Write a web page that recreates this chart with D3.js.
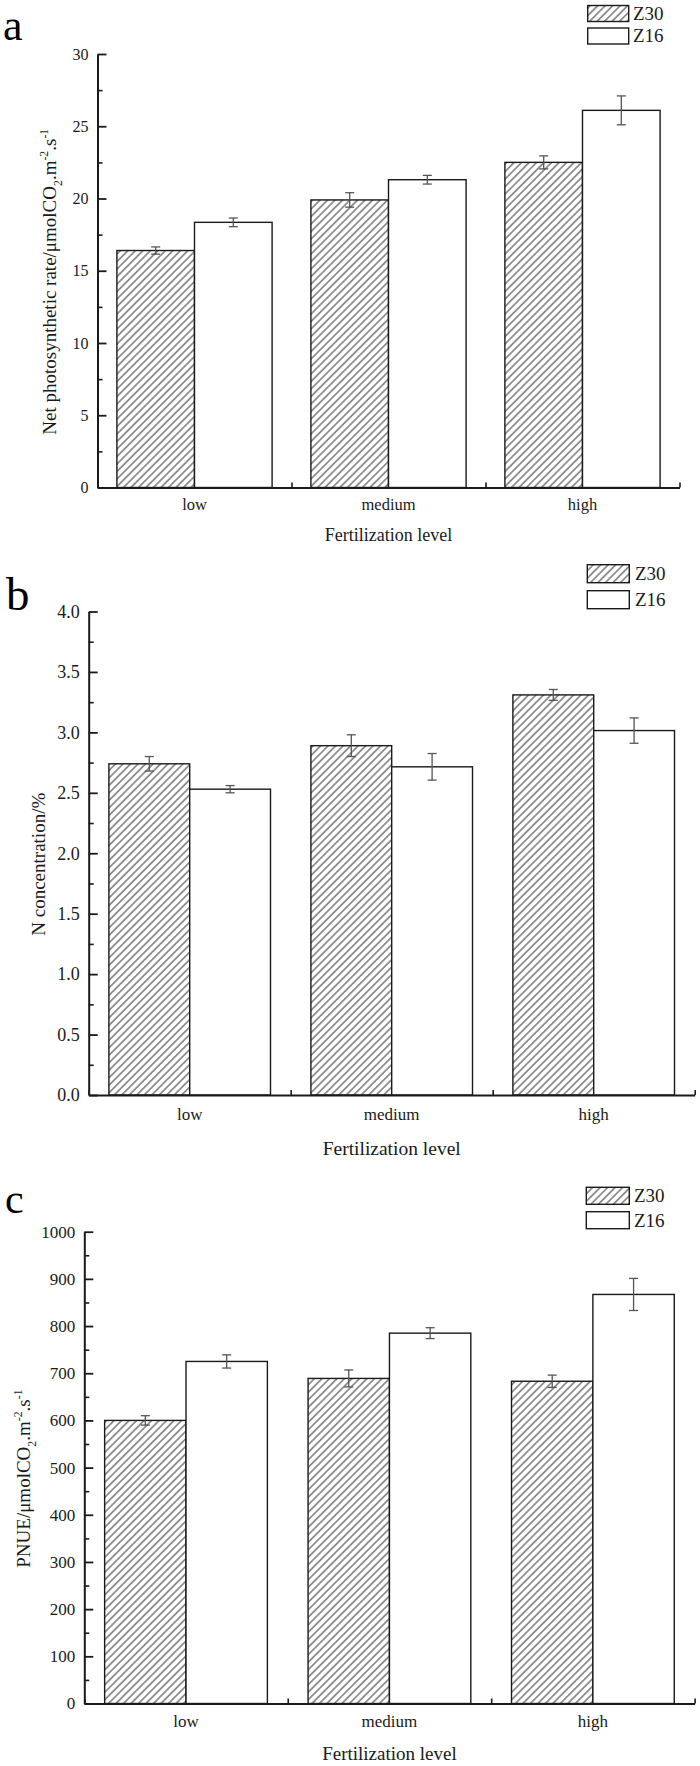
<!DOCTYPE html>
<html>
<head>
<meta charset="utf-8">
<script src="https://cdn.jsdelivr.net/npm/d3@7"></script>
<style>
  html, body { margin: 0; padding: 0; background: #fff; }
  svg { display: block; }
</style>
</head>
<body>
<script>
// ---------------- DATA ----------------
const categories = ["low", "medium", "high"];
const seriesNames = ["Z30", "Z16"];

// Panel a: Net photosynthetic rate
const photoZ30 = [16.4, 19.9, 22.5];
const photoZ30Err = [0.25, 0.5, 0.45];
const photoZ16 = [18.35, 21.3, 26.1];
const photoZ16Err = [0.3, 0.3, 1.0];
const photoTicks = [0, 5, 10, 15, 20, 25, 30];
const photoMinor = [2.5, 7.5, 12.5, 17.5, 22.5, 27.5];

// Panel b: N concentration
const nZ30 = [2.74, 2.89, 3.31];
const nZ30Err = [0.06, 0.09, 0.045];
const nZ16 = [2.53, 2.715, 3.015];
const nZ16Err = [0.03, 0.11, 0.105];
const nTicks = [0, 0.5, 1.0, 1.5, 2.0, 2.5, 3.0, 3.5, 4.0];
const nMinor = [0.25, 0.75, 1.25, 1.75, 2.25, 2.75, 3.25, 3.75];

// Panel c: PNUE
const pnueZ30 = [600, 689, 683];
const pnueZ30Err = [10, 18, 13];
const pnueZ16 = [725, 785, 867];
const pnueZ16Err = [14, 11.5, 34];
const pnueTicks = [0, 100, 200, 300, 400, 500, 600, 700, 800, 900, 1000];
const pnueMinor = [50, 150, 250, 350, 450, 550, 650, 750, 850, 950];

const xTitle = "Fertilization level";
const yTitleA = [{t: "Net photosynthetic rate/\u03bcmolCO"}, {t: "2", sub: true}, {t: ".m"}, {t: "-2", sup: true}, {t: ".s"}, {t: "-1", sup: true}];
const yTitleB = [{t: "N concentration/%"}];
const yTitleC = [{t: "PNUE/\u03bcmolCO"}, {t: "2", sub: true}, {t: ".m"}, {t: "-2", sup: true}, {t: ".s"}, {t: "-1", sup: true}];

// ---------------- DRAWING ----------------
const FONT = "'Liberation Serif', 'Times New Roman', Times, serif";
const INK = "#1a1a1a";

const svg = d3.select("body").append("svg")
  .attr("width", 700).attr("height", 1766)
  .attr("font-family", FONT);

const defs = svg.append("defs");
const pat = defs.append("pattern")
  .attr("id", "hatch")
  .attr("patternUnits", "userSpaceOnUse")
  .attr("width", 5.3).attr("height", 5.3)
  .attr("patternTransform", "rotate(45)");
pat.append("rect").attr("width", 5.3).attr("height", 5.3).attr("fill", "#fff");
pat.append("line")
  .attr("x1", 2.65).attr("y1", -1).attr("x2", 2.65).attr("y2", 6.3)
  .attr("stroke", "#2a2a2a").attr("stroke-width", 0.95);

function richText(sel, parts, fs) {
  let shift = 0;
  parts.forEach(p => {
    const target = p.sub ? fs * 0.32 : (p.sup ? -fs * 0.42 : 0);
    const ts = sel.append("tspan").text(p.t).attr("dy", target - shift);
    if (p.sub || p.sup) ts.attr("font-size", fs * 0.62);
    shift = target;
  });
}

function drawPanel(cfg, z30, z30e, z16, z16e, ticks, minor, fmt, yTitleParts) {
  const g = svg.append("g");
  const y = d3.scaleLinear().domain([0, cfg.max]).range([cfg.bottom, cfg.top]);
  const band = d3.scaleBand().domain(categories).range([cfg.left, cfg.right]).padding(0);
  const bw = band.bandwidth();
  const sub = d3.scaleBand().domain(seriesNames).range([0.1 * bw, 0.9 * bw]).padding(0);

  const rows = categories.map((c, i) => ({
    cat: c,
    vals: [
      {s: "Z30", v: z30[i], e: z30e[i]},
      {s: "Z16", v: z16[i], e: z16e[i]}
    ]
  }));

  // bars
  const grp = g.selectAll("g.grp").data(rows).join("g")
    .attr("transform", d => `translate(${band(d.cat)},0)`);
  grp.selectAll("rect").data(d => d.vals).join("rect")
    .attr("x", d => sub(d.s))
    .attr("width", sub.bandwidth())
    .attr("y", d => y(d.v))
    .attr("height", d => y(0) - y(d.v))
    .attr("fill", d => d.s === "Z30" ? "url(#hatch)" : "#fff")
    .attr("stroke", INK).attr("stroke-width", 1.4);

  // error bars
  const eb = grp.selectAll("g.eb").data(d => d.vals).join("g")
    .attr("stroke", "#555").attr("stroke-width", 1.3).attr("fill", "none");
  eb.append("line")
    .attr("x1", d => sub(d.s) + sub.bandwidth() / 2)
    .attr("x2", d => sub(d.s) + sub.bandwidth() / 2)
    .attr("y1", d => y(d.v - d.e)).attr("y2", d => y(d.v + d.e));
  [d => d.v - d.e, d => d.v + d.e].forEach(fn => {
    eb.append("line")
      .attr("x1", d => sub(d.s) + sub.bandwidth() / 2 - 4.5)
      .attr("x2", d => sub(d.s) + sub.bandwidth() / 2 + 4.5)
      .attr("y1", d => y(fn(d))).attr("y2", d => y(fn(d)));
  });

  // y axis minor
  const yMinor = g.append("g").attr("transform", `translate(${cfg.left},0)`)
    .call(d3.axisLeft(y).tickValues(minor).tickSize(-5).tickSizeOuter(0).tickFormat(""));
  yMinor.select(".domain").remove();
  yMinor.selectAll("line").attr("stroke", INK).attr("stroke-width", 1.6);

  // y axis major
  const yAx = g.append("g").attr("transform", `translate(${cfg.left},0)`)
    .call(d3.axisLeft(y).tickValues(ticks).tickSize(-9).tickSizeOuter(0).tickPadding(9).tickFormat(fmt));
  yAx.select(".domain").attr("stroke", INK).attr("stroke-width", 2);
  yAx.selectAll("line").attr("stroke", INK).attr("stroke-width", 1.8);
  yAx.selectAll("text").attr("font-family", FONT).attr("font-size", cfg.tickFs).attr("fill", INK);

  // x axis (boundary ticks pointing up)
  const xl = d3.scaleLinear().domain([0, categories.length]).range([cfg.left, cfg.right]);
  const xAx = g.append("g").attr("transform", `translate(0,${cfg.bottom})`)
    .call(d3.axisBottom(xl).tickValues(d3.range(categories.length + 1)).tickSize(-5).tickSizeOuter(0).tickFormat(""));
  xAx.select(".domain").attr("stroke", INK).attr("stroke-width", 2);
  xAx.selectAll("line").attr("stroke", INK).attr("stroke-width", 1.6);

  // category labels
  const cAx = g.append("g").attr("transform", `translate(0,${cfg.bottom})`)
    .call(d3.axisBottom(band).tickSize(0).tickPadding(cfg.catY - cfg.bottom - 0.71 * cfg.catFs));
  cAx.select(".domain").remove();
  cAx.selectAll("text").attr("font-family", FONT).attr("font-size", cfg.catFs).attr("fill", INK);

  // x title
  g.append("text")
    .attr("x", (cfg.left + cfg.right) / 2).attr("y", cfg.xTitleY)
    .attr("text-anchor", "middle").attr("font-size", cfg.xTitleFs).attr("fill", INK)
    .text(xTitle);

  // y title
  const yt = g.append("text")
    .attr("transform", `translate(${cfg.yTitleX},${(cfg.top + cfg.bottom) / 2 + cfg.yTitleOff}) rotate(-90)`)
    .attr("text-anchor", "middle").attr("font-size", cfg.yTitleFs).attr("fill", INK);
  richText(yt, yTitleParts, cfg.yTitleFs);

  // legend
  const L = cfg.legend;
  const lg = g.append("g");
  const items = [
    {s: seriesNames[0], fill: "url(#hatch)", y: L.y1, h: L.h},
    {s: seriesNames[1], fill: "#fff", y: L.y2, h: L.h}
  ];
  items.forEach(it => {
    lg.append("rect").attr("x", L.x).attr("y", it.y).attr("width", L.w).attr("height", it.h)
      .attr("fill", it.fill).attr("stroke", INK).attr("stroke-width", 1.4);
    lg.append("text").attr("x", L.tx).attr("y", it.y + it.h / 2 + 0.34 * L.fs)
      .attr("font-family", FONT)
      .attr("font-size", L.fs).attr("fill", INK).text(it.s);
  });

  // panel letter
  g.append("text").attr("x", cfg.letter.x).attr("y", cfg.letter.y)
    .attr("font-family", FONT)
    .attr("font-size", cfg.letter.fs).attr("fill", "#000").text(cfg.letter.t);
}

const fmtInt = d3.format("d");
const fmt1 = d3.format(".1f");

drawPanel({
  left: 97.5, right: 679.5, top: 54, bottom: 487.5, max: 30,
  tickFs: 16, catFs: 16.5, catY: 510, xTitleFs: 18, xTitleY: 541,
  yTitleFs: 19, yTitleX: 56, yTitleOff: 11,
  legend: {x: 587.7, y1: 5.5, y2: 28, w: 41, h: 16, tx: 633, fs: 19},
  letter: {x: 3, y: 40, fs: 44, t: "a"}
}, photoZ30, photoZ30Err, photoZ16, photoZ16Err, photoTicks, photoMinor, fmtInt, yTitleA);

drawPanel({
  left: 88.7, right: 694.7, top: 611.5, bottom: 1095, max: 4,
  tickFs: 18, catFs: 17, catY: 1120, xTitleFs: 19.5, xTitleY: 1155,
  yTitleFs: 19, yTitleX: 45, yTitleOff: 11,
  legend: {x: 587.3, y1: 564.7, y2: 590.7, w: 42, h: 18, tx: 635, fs: 19},
  letter: {x: 6, y: 610, fs: 47, t: "b"}
}, nZ30, nZ30Err, nZ16, nZ16Err, nTicks, nMinor, fmt1, yTitleB);

drawPanel({
  left: 84.3, right: 694.6, top: 1231.7, bottom: 1703.5, max: 1000,
  tickFs: 17, catFs: 17, catY: 1726.5, xTitleFs: 19, xTitleY: 1760,
  yTitleFs: 19, yTitleX: 29.5, yTitleOff: 11,
  legend: {x: 586.3, y1: 1187.3, y2: 1211.7, w: 43, h: 17, tx: 634, fs: 19},
  letter: {x: 5, y: 1212.7, fs: 42, t: "c"}
}, pnueZ30, pnueZ30Err, pnueZ16, pnueZ16Err, pnueTicks, pnueMinor, fmtInt, yTitleC);
</script>
</body>
</html>
